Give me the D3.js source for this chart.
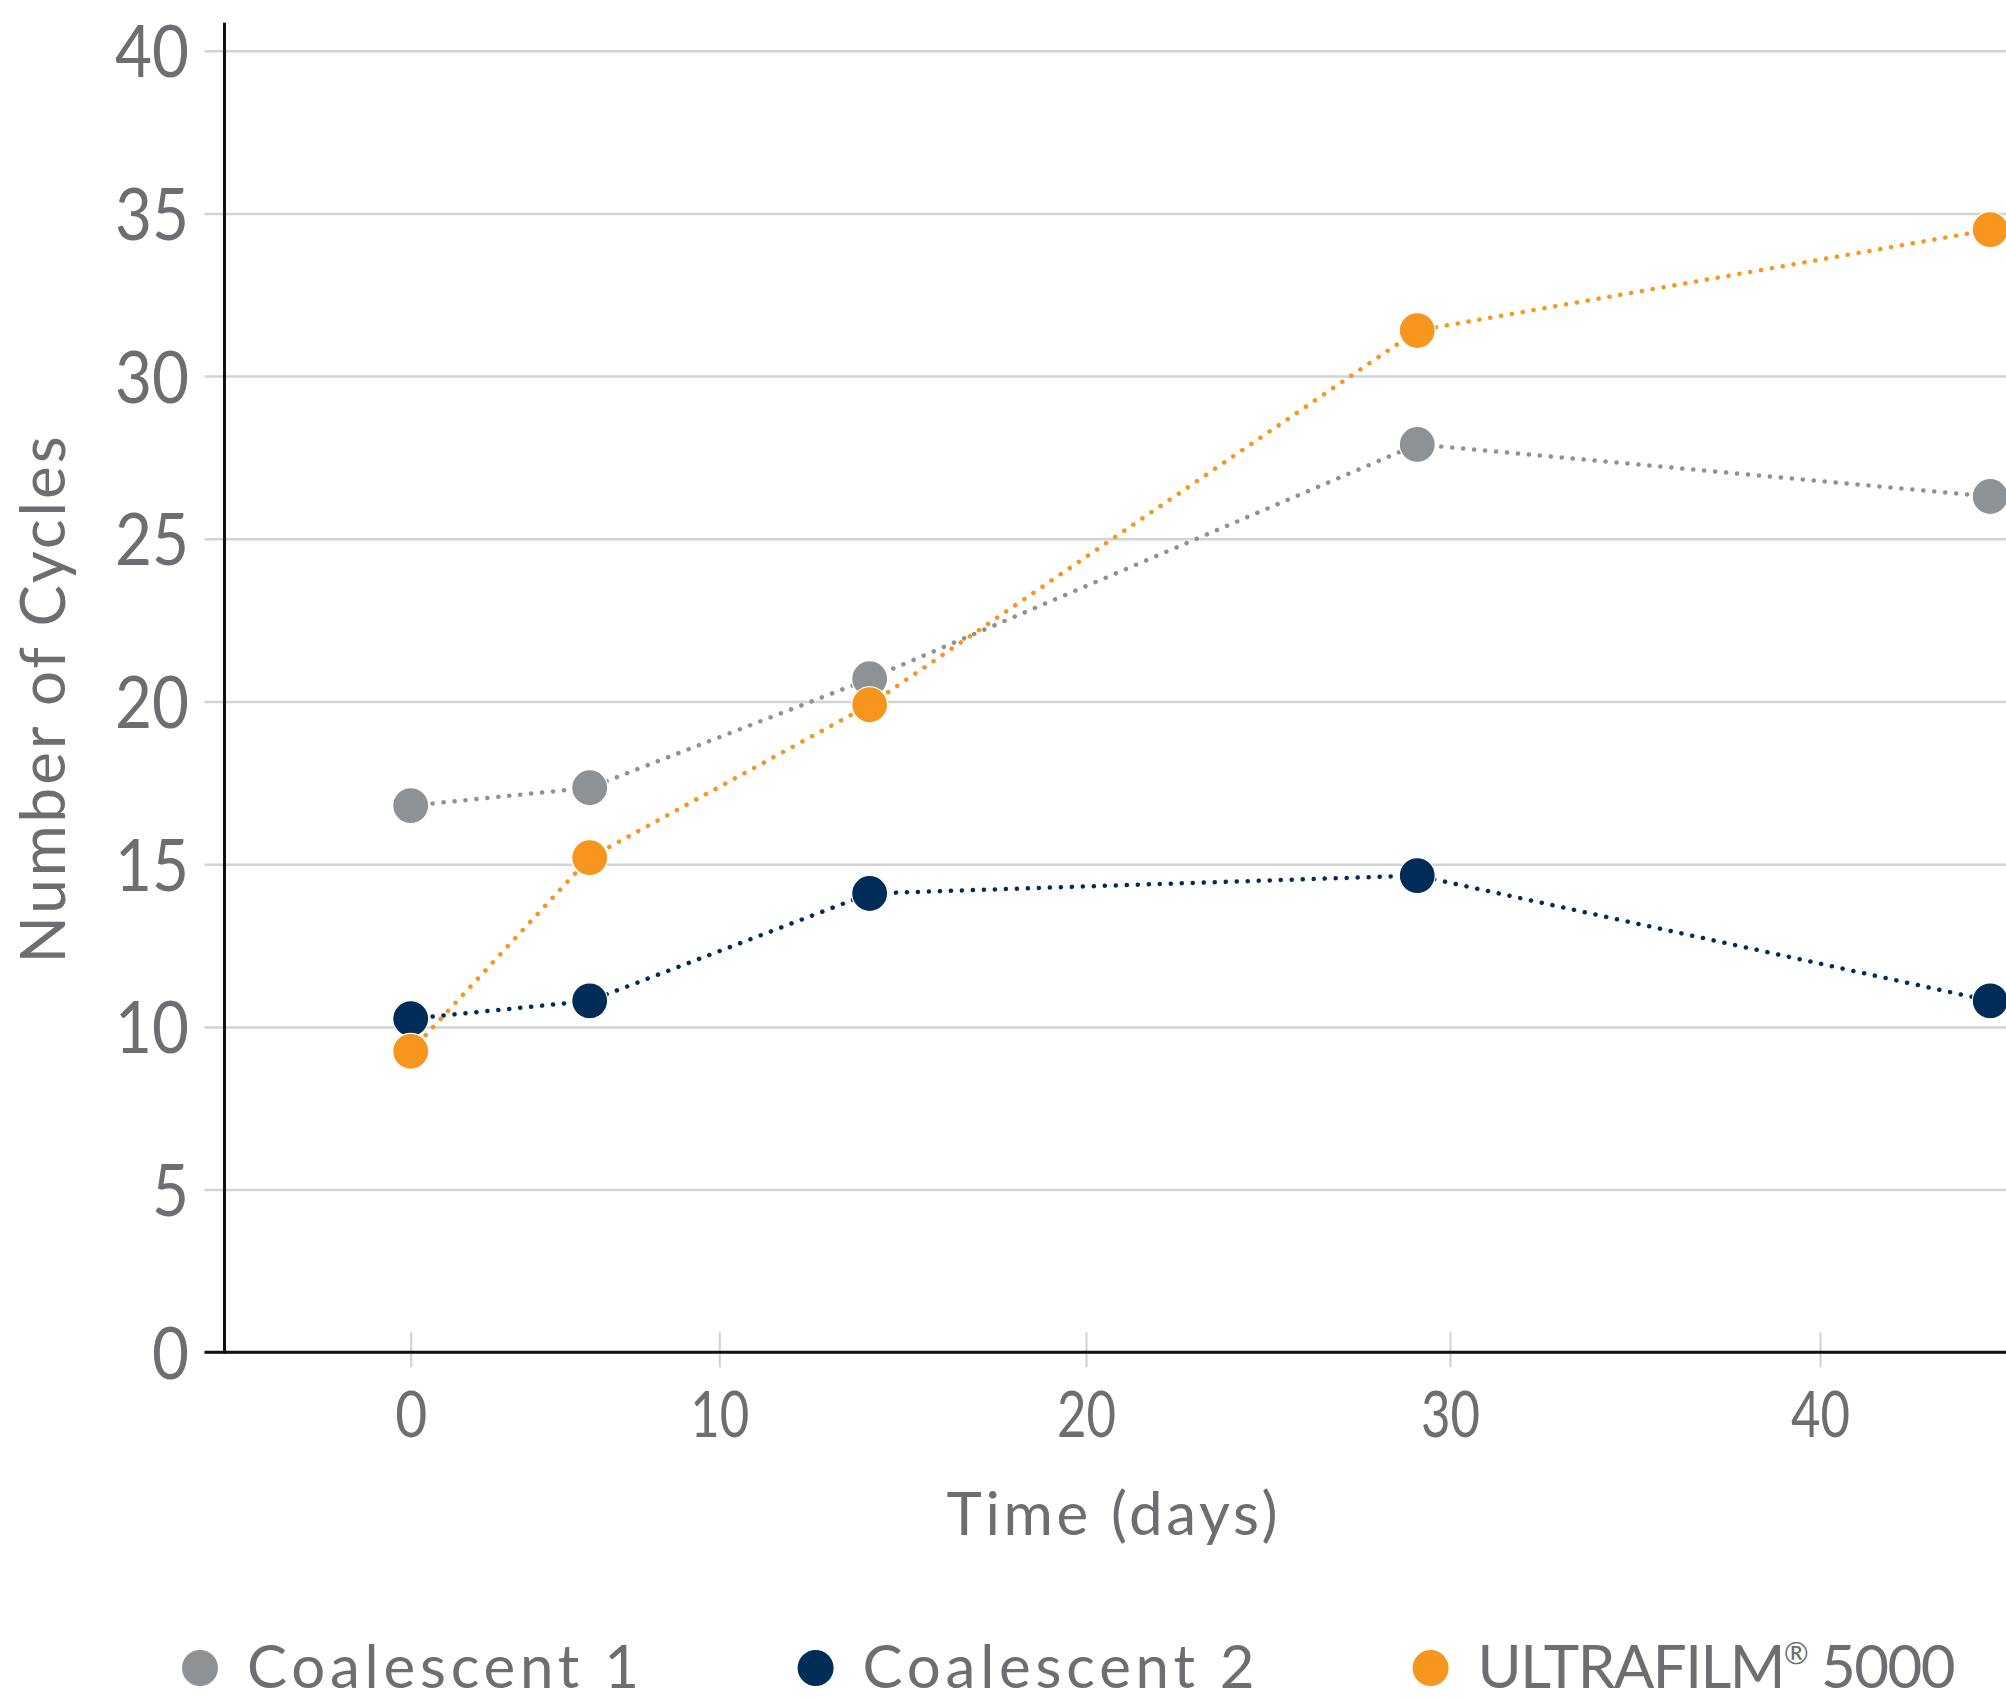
<!DOCTYPE html>
<html>
<head>
<meta charset="utf-8">
<script src="https://cdn.jsdelivr.net/npm/d3@7"></script>
<style>
  html, body { margin: 0; padding: 0; background: #fff; }
  svg { display: block; }
  text { font-family: "Century Gothic", "URW Gothic", "Lato", sans-serif; font-weight: 400; fill: #6d6e71; }
</style>
</head>
<body>
<svg id="chart" width="2006" height="1700"></svg>
<script>
// ---- data ----
const days = [0, 5.8, 14.1, 29.1, 44.6];
const seriesNames = ["Coalescent 1", "Coalescent 2", "ULTRAFILM"];
const nameSuffix = ["", "", " 5000"];
const coalescent1 = [16.8, 17.35, 20.7, 27.9, 26.3];
const coalescent2 = [10.25, 10.8, 14.1, 14.65, 10.8];
const ultrafilm = [9.25, 15.2, 19.9, 31.4, 34.5];
const xTicks = [0, 10, 20, 30, 40];
const yTicks = [0, 5, 10, 15, 20, 25, 30, 35, 40];
const colors = ["#8f9294", "#002d57", "#f7961f"];
const xTitle = "Time (days)";
const yTitle = "Number of Cycles";

const series = [coalescent1, coalescent2, ultrafilm].map((vals, i) => ({
  name: seriesNames[i], suffix: nameSuffix[i], reg: i === 2, color: colors[i],
  points: vals.map((v, j) => ({ x: days[j], y: v }))
}));

// ---- layout ----
const W = 2006, H = 1700;
const axisX = 224.5, axisY = 1352.3;
const svg = d3.select("#chart");

const x = d3.scaleLinear().domain(xTicks).range([410.7, 719.3, 1086, 1450, 1820]);
const y = d3.scaleLinear().domain([0, 40]).range([axisY, 50.7]);

// gridlines + y labels
const yAxis = d3.axisLeft(y).tickValues(yTicks).tickSize(-(W - axisX)).tickPadding(35.5).tickFormat(d3.format("d"));
const gy = svg.append("g").attr("transform", `translate(${axisX},0)`).call(yAxis)
  .attr("font-family", null).attr("font-size", null);
gy.select(".domain").remove();
gy.selectAll(".tick line").attr("x1", -20).attr("stroke", "#d1d3d4").attr("stroke-width", 2.5);
gy.selectAll(".tick text").attr("font-size", 72).attr("dy", "0.36em").attr("fill", "#6d6e71")
  .attr("textLength", d => String(d).length * 37).attr("lengthAdjust", "spacingAndGlyphs");

// x ticks + labels
const xAxis = d3.axisBottom(x).tickValues(xTicks).tickSize(15).tickPadding(24).tickFormat(d3.format("d"));
const gx = svg.append("g").attr("transform", `translate(0,${axisY})`).call(xAxis)
  .attr("font-family", null).attr("font-size", null);
gx.select(".domain").remove();
gx.selectAll(".tick line").attr("y1", -20).attr("y2", 15).attr("stroke", "#cfd0d2").attr("stroke-width", 2);
gx.selectAll(".tick text").attr("font-size", 63).attr("dy", "0.72em").attr("fill", "#6d6e71")
  .attr("textLength", d => d === 0 ? 32 : 59).attr("lengthAdjust", "spacingAndGlyphs");

// axis lines
svg.append("line").attr("x1", axisX).attr("x2", axisX).attr("y1", 22.7).attr("y2", axisY + 1.5)
  .attr("stroke", "#111").attr("stroke-width", 3);
svg.append("line").attr("x1", 204.5).attr("x2", W).attr("y1", axisY).attr("y2", axisY)
  .attr("stroke", "#111").attr("stroke-width", 3);

// series
const line = d3.line().x(d => x(d.x)).y(d => y(d.y));
series.forEach(s => {
  const g = svg.append("g");
  g.append("path").attr("d", line(s.points)).attr("fill", "none")
    .attr("stroke", s.color).attr("stroke-width", 4.5)
    .attr("stroke-linecap", "round").attr("stroke-dasharray", "0.1 10.9");
  g.selectAll("circle").data(s.points).join("circle")
    .attr("cx", d => x(d.x)).attr("cy", d => y(d.y)).attr("r", 18)
    .attr("fill", s.color).attr("stroke", "#fff").attr("stroke-width", 1.2);
});

// axis titles
svg.append("text").attr("x", 1112).attr("y", 1535).attr("text-anchor", "middle")
  .attr("font-size", 60).attr("textLength", 331).attr("lengthAdjust", "spacing").text(xTitle);
svg.append("text").attr("transform", "translate(65,700) rotate(-90)").attr("text-anchor", "middle")
  .attr("font-size", 62).attr("textLength", 527).attr("lengthAdjust", "spacing").text(yTitle);

// legend
const legendX = [200, 815.6, 1430.6];
const legendW = [392, 392, 478];
const lg = svg.append("g");
series.forEach((s, i) => {
  lg.append("circle").attr("cx", legendX[i]).attr("cy", 1668).attr("r", 18).attr("fill", s.color);
  const t = lg.append("text").attr("x", legendX[i] + 47).attr("y", 1688).attr("font-size", 60)
    .attr("textLength", legendW[i]).attr("lengthAdjust", "spacing");
  t.append("tspan").text(s.name);
  if (s.reg) {
    t.append("tspan").attr("font-size", 30).attr("dy", -24).text("\u00AE");
    t.append("tspan").attr("dy", 24).text(s.suffix);
  }
});
</script>
</body>
</html>
